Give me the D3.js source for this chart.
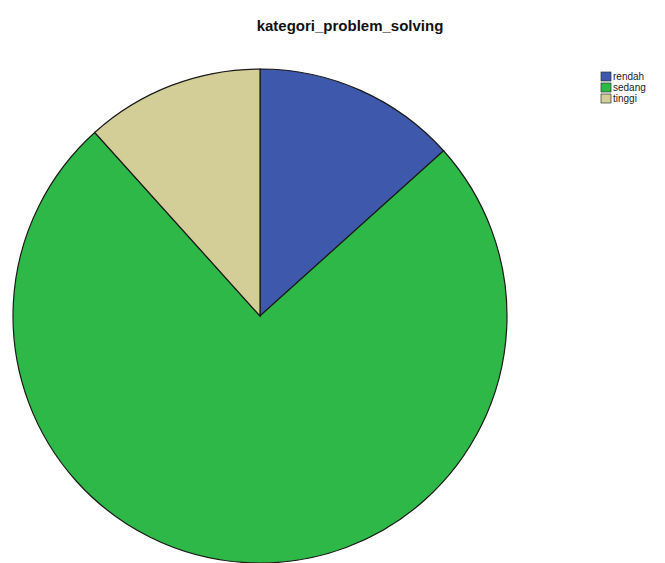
<!DOCTYPE html>
<html><head><meta charset="utf-8">
<script src="https://cdn.jsdelivr.net/npm/d3@7"></script>
<style>body{margin:0;background:#fff}</style>
</head><body>
<script>
const categories = ["rendah", "sedang", "tinggi"];
const values = [8, 45, 7];
const colors = ["#3E58AC", "#2EB848", "#D3CE97"];
const title = "kategori_problem_solving";

const W = 665, H = 563;
const svg = d3.select("body").append("svg").attr("width", W).attr("height", H);

svg.append("text").attr("x", 350).attr("y", 31).attr("text-anchor", "middle")
  .attr("font-family", "Liberation Sans, Arial, sans-serif").attr("font-weight", "bold")
  .attr("font-size", 15).attr("fill", "#111").text(title);

const cx = 260, cy = 316, r = 247;
const pie = d3.pie().sort(null).value(d => d)(values);
const arc = d3.arc().innerRadius(0).outerRadius(r);
const g = svg.append("g").attr("transform", `translate(${cx},${cy})`);
g.selectAll("path").data(pie).join("path")
  .attr("d", arc).attr("fill", (d, i) => colors[i])
  .attr("stroke", "#1a1a1a").attr("stroke-width", 1.2);

const color = d3.scaleOrdinal().domain(categories).range(colors);
const lg = svg.append("g").attr("transform", "translate(601,72)");
const rows = lg.selectAll("g").data(categories).join("g")
  .attr("transform", (d, i) => `translate(0,${i * 11})`);
rows.append("rect").attr("width", 10).attr("height", 9)
  .attr("fill", d => color(d)).attr("stroke", "#333").attr("stroke-width", 0.7);
rows.append("text").attr("x", 12).attr("y", 8)
  .attr("font-family", "Liberation Sans, Arial, sans-serif").attr("font-size", 10)
  .attr("fill", "#222").text(d => d);
</script>
</body></html>
